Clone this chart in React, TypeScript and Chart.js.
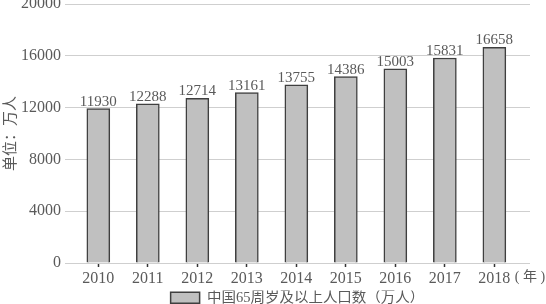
import React, { useEffect, useRef } from 'react';
import { Chart, registerables } from 'chart.js';

Chart.register(...registerables);

const years = [2010, 2011, 2012, 2013, 2014, 2015, 2016, 2017, 2018];
const population = [11930, 12288, 12714, 13161, 13755, 14386, 15003, 15831, 16658];
const yTicks = [0, 4000, 8000, 12000, 16000, 20000];
const seriesLabel = '中国65周岁及以上人口数（万人）';
const yTitle = '单位：万人';
const xUnitLabel = '( 年 )';

const X_MIN = 2009.327;
const X_MAX = 2018.72;
const TEXT = '#5a5a5a';
const SERIF = "'Liberation Serif', 'Noto Sans CJK SC', serif";

const barLabels = {
  id: 'barLabels',
  afterDatasetsDraw(chart: any) {
    const { ctx } = chart;
    const meta = chart.getDatasetMeta(0);
    ctx.save();
    ctx.font = `15px ${SERIF}`;
    ctx.fillStyle = TEXT;
    ctx.textAlign = 'center';
    ctx.textBaseline = 'alphabetic';
    meta.data.forEach((el: any, i: number) => {
      ctx.fillText(String(population[i]), el.x, el.y - 3);
    });
    ctx.restore();
  },
};

export default function App() {
  const ref = useRef<HTMLCanvasElement | null>(null);

  useEffect(() => {
    if (!ref.current) return;
    const chart = new Chart(ref.current, {
      type: 'bar',
      data: {
        datasets: [
          {
            label: seriesLabel,
            data: years.map((y, i) => ({ x: y, y: population[i] })),
            backgroundColor: '#c0c0c0',
            borderColor: '#3f3f3f',
            borderWidth: 1.5,
            barThickness: 23,
          },
        ],
      },
      options: {
        responsive: false,
        animation: false,
        layout: { padding: { top: 4, right: 16, left: 0, bottom: 0 } },
        plugins: {
          tooltip: { enabled: false },
          legend: {
            position: 'bottom',
            fullSize: false,
            maxHeight: 13.5,
            labels: {
              boxWidth: 29,
              boxHeight: 11,
              padding: 0,
              color: TEXT,
              font: { family: SERIF, size: 14.5 },
            },
          },
        },
        scales: {
          x: {
            type: 'linear',
            offset: false,
            min: X_MIN,
            max: X_MAX,
            afterBuildTicks: (s: any) => {
              s.ticks = [...years.map((v) => ({ value: v })), { value: X_MAX }];
            },
            afterFit: (s: any) => {
              s.height = 27.5;
              s.paddingLeft = 0;
              s.paddingRight = 0;
            },
            ticks: {
              autoSkip: false,
              maxRotation: 0,
              padding: 2,
              color: TEXT,
              font: (ctx: any) => ({
                family: SERIF,
                size: ctx.tick && ctx.tick.value === X_MAX ? 14 : 16,
              }),
              callback: (v: any) => (v === X_MAX ? xUnitLabel : String(v)),
            },
            grid: {
              offset: false,
              drawOnChartArea: false,
              drawTicks: true,
              tickLength: 4,
              tickWidth: 1.5,
              tickColor: (ctx: any) =>
                ctx.tick && ctx.tick.value === X_MAX ? 'rgba(0,0,0,0)' : '#333333',
            },
            border: { display: false },
          },
          y: {
            min: 0,
            max: 20000,
            afterBuildTicks: (s: any) => {
              s.ticks = yTicks.map((v) => ({ value: v }));
            },
            afterFit: (s: any) => {
              s.width = 65;
              s.paddingTop = 0;
              s.paddingBottom = 0;
            },
            ticks: {
              padding: 4,
              color: TEXT,
              font: { family: SERIF, size: 16 },
              callback: (v: any) => String(v),
            },
            grid: { color: '#cfcfcf', lineWidth: 1, drawTicks: false },
            border: { display: false },
            title: {
              display: true,
              text: yTitle,
              color: TEXT,
              padding: 0,
              font: { family: "'Noto Sans CJK SC', sans-serif", size: 15 },
            },
          },
        },
      },
      plugins: [barLabels],
    } as any);
    return () => chart.destroy();
  }, []);

  return (
    <div style={{ position: 'fixed', left: 0, top: 0, width: 546, height: 304 }}>
      <canvas ref={ref} width={546} height={304} />
    </div>
  );
}
